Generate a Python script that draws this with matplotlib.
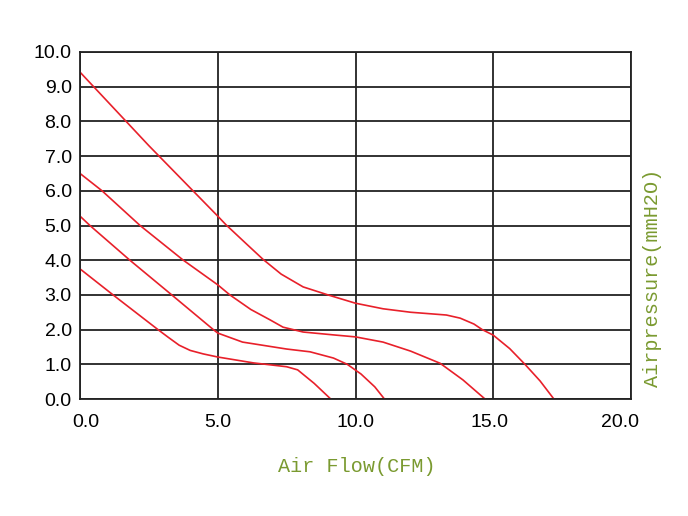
import matplotlib.pyplot as plt
from matplotlib.transforms import ScaledTranslation

# curvas P-Q (CFM, mmH2O)
flow1 = [0.0, 2.5, 5.0, 5.3, 6.0, 6.65, 7.3, 8.1, 9.0, 10.0, 11.0, 12.0, 13.3, 13.8, 14.3, 14.6, 15.0, 15.6, 16.15, 16.7, 17.2]
press1 = [9.42, 7.3, 5.27, 5.02, 4.5, 4.02, 3.6, 3.23, 3.0, 2.76, 2.6, 2.5, 2.42, 2.33, 2.16, 2.0, 1.84, 1.45, 1.0, 0.52, 0.0]

flow2 = [0.0, 0.8, 2.18, 3.75, 5.0, 5.44, 6.2, 6.9, 7.37, 8.1, 9.3, 10.0, 11.0, 12.0, 13.07, 13.9, 14.7]
press2 = [6.5, 6.0, 5.0, 4.0, 3.29, 3.0, 2.58, 2.28, 2.07, 1.93, 1.84, 1.79, 1.64, 1.38, 1.03, 0.55, 0.0]

flow3 = [0.0, 0.36, 1.81, 3.33, 4.84, 5.0, 5.9, 7.5, 8.35, 9.2, 9.7, 10.2, 10.7, 11.05]
press3 = [5.27, 5.0, 4.0, 3.0, 2.0, 1.9, 1.64, 1.44, 1.36, 1.18, 1.0, 0.72, 0.35, 0.0]

flow4 = [0.0, 1.2, 2.83, 3.2, 3.6, 4.0, 4.47, 5.0, 6.3, 7.5, 7.9, 8.5, 9.1]
press4 = [3.75, 3.0, 2.0, 1.78, 1.55, 1.4, 1.3, 1.21, 1.04, 0.93, 0.84, 0.45, 0.0]

xticks = [0, 5, 10, 15, 20]
yticks = [0, 1, 2, 3, 4, 5, 6, 7, 8, 9, 10]

fig = plt.figure(figsize=(6.88, 5.16), dpi=100)
ax = fig.add_axes([80 / 688, 1 - 399 / 516, 551 / 688, 347 / 516])

cor = '#e8202a'
for f, p in [(flow1, press1), (flow2, press2), (flow3, press3), (flow4, press4)]:
    ax.plot(f, p, color=cor, linewidth=1.2)

ax.set_xlim(0, 20)
ax.set_ylim(0, 10)
ax.set_xticks(xticks)
ax.set_yticks(yticks)
ax.set_xticklabels(['%.1f' % v for v in xticks], fontsize=14, family='Liberation Sans')
ax.set_yticklabels(['%.1f' % v for v in yticks], fontsize=14, family='Liberation Sans')
ax.tick_params(axis='x', length=0, pad=11)
ax.tick_params(axis='y', length=0, pad=6)

# pequenos deslocamentos dos rótulos das pontas, como no original
desloc = {0: 6, 3: -4, 4: -11}
for i, lab in enumerate(ax.get_xticklabels()):
    if i in desloc:
        lab.set_transform(lab.get_transform() + ScaledTranslation(desloc[i] / 100, 0, fig.dpi_scale_trans))

ax.grid(True, color='#222222', linewidth=1.3)
for s in ax.spines.values():
    s.set_color('#222222')
    s.set_linewidth(1.3)

verde = '#7a9a30'
fig.text(357 / 688, 1 - 466 / 516, 'Air Flow(CFM)', color=verde, fontsize=14.5,
         family='Liberation Mono', ha='center', va='center')
fig.text(653 / 688, 1 - 278 / 516, 'Airpressure(mmH2O)', color=verde, fontsize=14.5,
         family='Liberation Mono', ha='center', va='center', rotation=90)

fig.savefig('out.png', dpi=100)
